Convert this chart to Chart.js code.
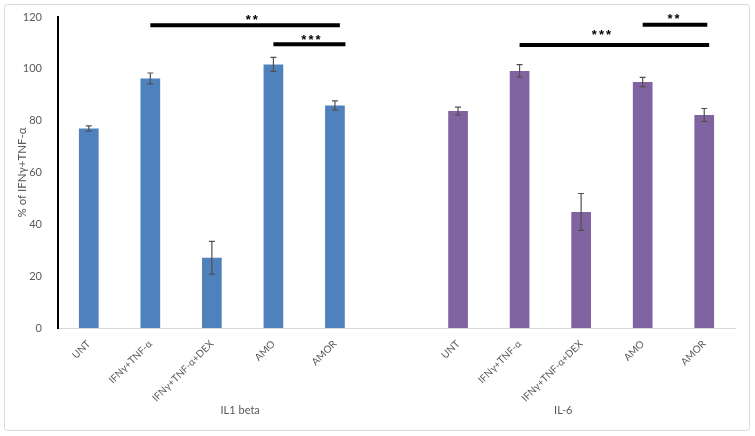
<!DOCTYPE html>
<html>
<head>
<meta charset="utf-8">
<script src="https://cdn.jsdelivr.net/npm/chart.js@4.4.1/dist/chart.umd.min.js"></script>
<style>
html,body{margin:0;padding:0;background:#fff;}
#wrap{width:755px;height:436px;position:relative;}
</style>
</head>
<body>
<div id="wrap"><canvas id="c" width="755" height="436"></canvas></div>
<script>
// ---- data ----
const categories = ['UNT','IFNγ+TNF-α','IFNγ+TNF-α+DEX','AMO','AMOR','', 'UNT','IFNγ+TNF-α','IFNγ+TNF-α+DEX','AMO','AMOR'];
const il1betaValues = [77, 96.3, 27.1, 101.7, 85.9];
const il1betaErrors = [1.0, 2.1, 6.3, 2.7, 1.7];
const il6Values = [83.7, 99.2, 44.8, 94.9, 82.2];
const il6Errors = [1.5, 2.4, 7.1, 1.8, 2.5];
const groupLabels = ['IL1 beta', 'IL-6'];
const yTicks = [0, 20, 40, 60, 80, 100, 120];
const yTitle = '% of IFNγ+TNF-α';
// significance annotations: category span, level (in value units) and star text
const sigFrom = [1, 3, 7, 9];
const sigTo = [4.08, 4.17, 10.08, 10.05];
const sigLevel = [116.8, 109.5, 109.2, 117];
const sigText = ['**', '***', '***', '**'];
const sigTextAt = [2.65, 3.61, 8.33, 9.5];
const sigTextLevel = [119.8, 112.3, 114.2, 120.2];

const values = [...il1betaValues, null, ...il6Values];
const errors = [...il1betaErrors, null, ...il6Errors];
const BLUE = '#4F81BD', PURPLE = '#8064A2';
const colors = values.map((v, i) => i < 5 ? BLUE : PURPLE);

const frame = {
  id: 'frame',
  beforeDraw(chart) {
    const ctx = chart.ctx;
    ctx.save();
    ctx.fillStyle = '#fff';
    ctx.fillRect(0, 0, chart.width, chart.height);
    ctx.strokeStyle = '#d9d9d9';
    ctx.lineWidth = 1;
    ctx.beginPath();
    ctx.roundRect(4.5, 4.5, 745, 426, 3);
    ctx.stroke();
    ctx.restore();
  }
};

const extras = {
  id: 'extras',
  afterDatasetsDraw(chart) {
    const ctx = chart.ctx;
    const x = chart.scales.x, y = chart.scales.y;
    const meta = chart.getDatasetMeta(0);
    ctx.save();
    // error bars
    ctx.strokeStyle = '#505050';
    ctx.lineWidth = 1.2;
    values.forEach((v, i) => {
      if (v === null) return;
      const bx = meta.data[i].x;
      const yt = y.getPixelForValue(v + errors[i]);
      const yb = y.getPixelForValue(v - errors[i]);
      ctx.beginPath();
      ctx.moveTo(bx, yt); ctx.lineTo(bx, yb);
      ctx.moveTo(bx - 3, yt); ctx.lineTo(bx + 3, yt);
      ctx.moveTo(bx - 3, yb); ctx.lineTo(bx + 3, yb);
      ctx.stroke();
    });
    // significance bars
    const step = x.getPixelForValue(1) - x.getPixelForValue(0);
    const px = (f) => x.getPixelForValue(0) + f * step;
    ctx.strokeStyle = '#000';
    ctx.lineWidth = 4;
    ctx.fillStyle = '#000';
    ctx.font = 'bold 13px "Liberation Sans", Arial, sans-serif';
    ctx.textAlign = 'center';
    ctx.textBaseline = 'middle';
    try { ctx.letterSpacing = '2px'; } catch (e) {}
    sigFrom.forEach((f, k) => {
      const ly = y.getPixelForValue(sigLevel[k]);
      ctx.beginPath();
      ctx.moveTo(px(f), ly); ctx.lineTo(px(sigTo[k]), ly);
      ctx.stroke();
      ctx.fillText(sigText[k], px(sigTextAt[k]) + 1, y.getPixelForValue(sigTextLevel[k]) + 3);
    });
    try { ctx.letterSpacing = '0px'; } catch (e) {}
    // group labels
    ctx.fillStyle = '#595959';
    ctx.font = '11px Lato, "Open Sans", sans-serif';
    ctx.fillText(groupLabels[0], px(2.46), 410);
    ctx.fillText(groupLabels[1], px(7.71), 410);
    ctx.restore();
  }
};

new Chart(document.getElementById('c'), {
  type: 'bar',
  data: {
    labels: categories,
    datasets: [{
      data: values,
      backgroundColor: colors,
      borderWidth: 0,
      barPercentage: 0.32,
      categoryPercentage: 1.0
    }]
  },
  options: {
    responsive: false,
    animation: false,
    events: [],
    layout: { padding: { left: 0, right: 20, top: 17, bottom: 0 } },
    plugins: { legend: { display: false }, tooltip: { enabled: false } },
    scales: {
      x: {
        grid: { display: false },
        border: { display: true, color: '#d9d9d9', width: 1 },
        ticks: {
          color: '#595959',
          font: { family: 'Lato, "Open Sans", sans-serif', size: 10 },
          maxRotation: 45, minRotation: 45,
          autoSkip: false,
          padding: 2
        },
        afterFit(s) { s.height = 108; }
      },
      y: {
        min: 0, max: 120,
        afterBuildTicks(s) { s.ticks = yTicks.map(v => ({ value: v })); },
        grid: { display: false },
        border: { display: true, color: '#000', width: 2 },
        ticks: {
          color: '#595959',
          font: { family: 'Lato, "Open Sans", sans-serif', size: 11 },
          padding: 8
        },
        title: {
          display: true,
          text: yTitle,
          color: '#595959',
          font: { family: 'Lato, "Open Sans", sans-serif', size: 11.5 },
          padding: { top: 15, bottom: 0 }
        },
        afterFit(s) { s.width = 58; }
      }
    }
  },
  plugins: [frame, extras]
});
</script>
</body>
</html>
